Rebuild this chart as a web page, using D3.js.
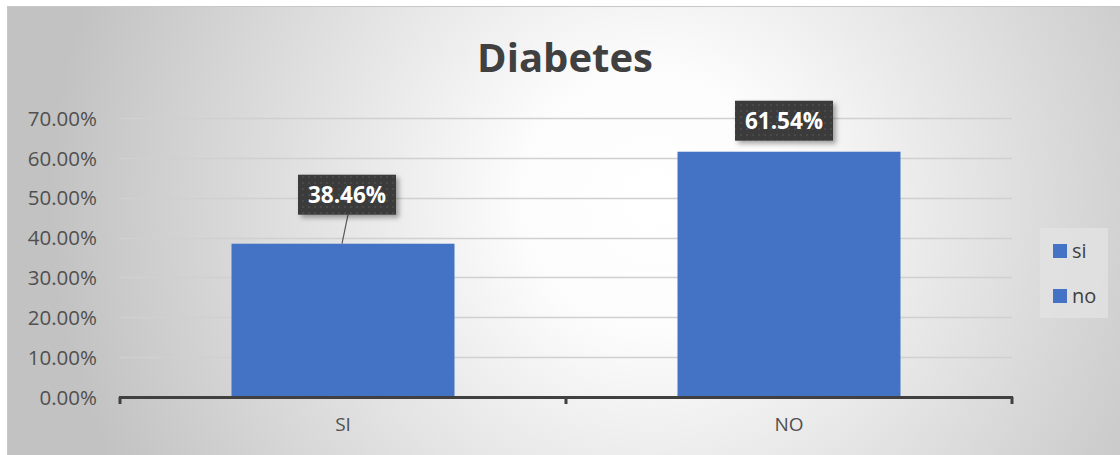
<!DOCTYPE html>
<html><head><meta charset="utf-8">
<script src="https://cdn.jsdelivr.net/npm/d3@7"></script>
<style>html,body{margin:0;padding:0;background:#fff;}svg{display:block;}</style>
</head><body>
<script>
const categories = ["SI", "NO"];
const values = [0.3846, 0.6154];
const valueLabels = ["38.46%", "61.54%"];
const yTicks = [0, 0.1, 0.2, 0.3, 0.4, 0.5, 0.6, 0.7];
const legendNames = ["si", "no"];
const title = "Diabetes";

const W = 1120, H = 455;
const svg = d3.select("body").append("svg").attr("width", W).attr("height", H);
const defs = svg.append("defs");
const rg = defs.append("radialGradient").attr("id","bg").attr("gradientUnits","userSpaceOnUse")
  .attr("cx", 650).attr("cy", 200).attr("r", 600);
rg.append("stop").attr("offset","0").attr("stop-color","#ffffff");
rg.append("stop").attr("offset","0.22").attr("stop-color","#fcfcfc");
rg.append("stop").attr("offset","1").attr("stop-color","#c2c2c2");
const pat = defs.append("pattern").attr("id","dots").attr("patternUnits","userSpaceOnUse").attr("width",6).attr("height",6);
pat.append("rect").attr("width",6).attr("height",6).attr("fill","#3a3a3a");
pat.append("rect").attr("x",2).attr("y",2).attr("width",2).attr("height",2).attr("fill","#4a4a4a");
const flt = defs.append("filter").attr("id","sh").attr("x","-20%").attr("y","-20%").attr("width","150%").attr("height","160%");
flt.append("feDropShadow").attr("dx",3).attr("dy",3).attr("stdDeviation",2.5).attr("flood-color","#000").attr("flood-opacity",0.35);

svg.append("rect").attr("x",7).attr("y",6).attr("width",W-7).attr("height",H-6).attr("fill","url(#bg)");
svg.append("line").attr("x1",7).attr("x2",W).attr("y1",6.5).attr("y2",6.5).attr("stroke","#c8c8c8");
svg.append("line").attr("x1",7.5).attr("x2",7.5).attr("y1",6).attr("y2",H).attr("stroke","#c8c8c8");

const font = "'Open Sans', 'Liberation Sans', sans-serif";
const x = d3.scaleBand().domain(categories).range([120, 1012]).paddingInner(0.5).paddingOuter(0.25);
const y = d3.scaleLinear().domain([0, 0.7]).range([397, 118]);

svg.append("text").attr("x", 565).attr("y", 72).attr("text-anchor","middle")
  .attr("font-family", font).attr("font-weight","bold").attr("font-size", 40).attr("fill","#404040").text(title);

// gridlines
svg.append("g").selectAll("line").data(yTicks.filter(d=>d>0)).join("line")
  .attr("x1",120).attr("x2",1012).attr("y1",d=>Math.round(y(d))+0.5).attr("y2",d=>Math.round(y(d))+0.5)
  .attr("stroke","#d0d0d0").attr("stroke-width",1.5);

// y axis labels
const yAxis = d3.axisLeft(y).tickValues(yTicks).tickFormat(d3.format(".2%")).tickSize(0).tickPadding(0);
const ya = svg.append("g").attr("transform","translate(97,0)").call(yAxis);
ya.select(".domain").remove();
ya.selectAll("text").attr("font-family",font).attr("font-size",20.5).attr("fill","#505050").attr("dy","0.35em");

// bars
svg.append("g").selectAll("rect").data(values).join("rect")
  .attr("x",(d,i)=>x(categories[i])).attr("width",x.bandwidth())
  .attr("y",d=>y(d)).attr("height",d=>y(0)-y(d)).attr("fill","#4472c4");

// x axis
const xAxis = d3.axisBottom(x).tickSize(0).tickPadding(21);
const xa = svg.append("g").attr("transform",`translate(0,${y(0)})`).call(xAxis);
xa.select(".domain").remove();
xa.selectAll("text").attr("font-family",font).attr("font-size",19).attr("fill","#505050");
svg.append("line").attr("x1",119).attr("x2",1013).attr("y1",y(0)+0.5).attr("y2",y(0)+0.5).attr("stroke","#404040").attr("stroke-width",3);
const tickXs = [120, (120+1012)/2, 1012];
svg.append("g").selectAll("line").data(tickXs).join("line")
  .attr("x1",d=>d).attr("x2",d=>d).attr("y1",y(0)).attr("y2",y(0)+7).attr("stroke","#404040").attr("stroke-width",3);

// data labels
const labelOffsets = [[4, -49], [-5, -31]];
const lg = svg.append("g");
values.forEach((v,i)=>{
  const cx = x(categories[i]) + x.bandwidth()/2;
  const top = y(v);
  const bx = cx + labelOffsets[i][0];
  const by = top + labelOffsets[i][1] - 20;
  if (i===0) {
    lg.append("line").attr("x1",cx-1).attr("y1",top).attr("x2",bx+1).attr("y2",by+40)
      .attr("stroke","#595959").attr("stroke-width",1.2);
  }
  lg.append("rect").attr("x",bx-49).attr("y",by).attr("width",98).attr("height",40)
    .attr("fill","url(#dots)").attr("filter","url(#sh)");
  lg.append("text").attr("x",bx).attr("y",by+28).attr("text-anchor","middle")
    .attr("font-family",font).attr("font-weight","bold").attr("font-size",22.5).attr("fill","#ffffff").text(valueLabels[i]);
});

// legend
const leg = svg.append("g");
leg.append("rect").attr("x",1040).attr("y",228).attr("width",68).attr("height",90).attr("fill","#e2e2e2").attr("opacity",0.8);
legendNames.forEach((n,i)=>{
  const yy = 244 + i*45;
  leg.append("rect").attr("x",1053).attr("y",yy).attr("width",14).attr("height",14).attr("fill","#4472c4");
  leg.append("text").attr("x",1072).attr("y",yy+14).attr("font-family",font).attr("font-size",20).attr("fill","#404040").text(n);
});
</script>
</body></html>
